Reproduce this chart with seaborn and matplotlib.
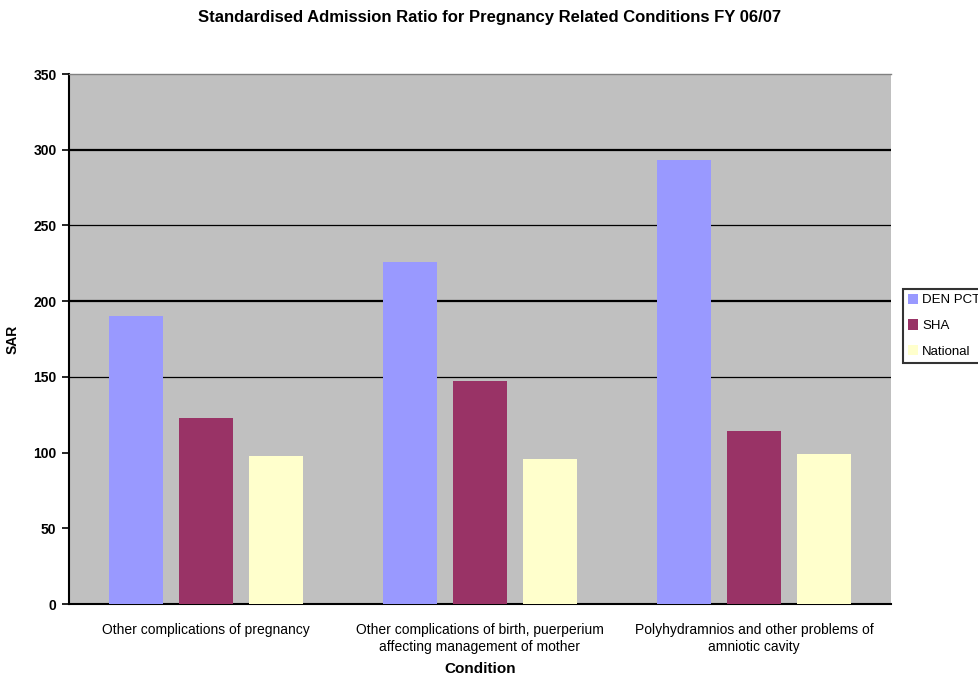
import matplotlib
matplotlib.use("Agg")
import matplotlib.pyplot as plt
import seaborn as sns
import pandas as pd

conditions = [
    "Other complications of pregnancy",
    "Other complications of birth, puerperium\naffecting management of mother",
    "Polyhydramnios and other problems of\namniotic cavity",
]
series = ["DEN PCT", "SHA", "National"]
den_pct = [190, 226, 293]
sha = [123, 147, 114]
national = [98, 96, 99]
colors = ["#9999FF", "#993366", "#FFFFCC"]

rows = []
for name, vals in zip(series, [den_pct, sha, national]):
    for cond, v in zip(conditions, vals):
        rows.append({"Condition": cond, "Series": name, "SAR": v})
df = pd.DataFrame(rows)

sns.set_theme(style="white")
plt.rcParams["font.family"] = ["Liberation Sans", "DejaVu Sans"]
plt.rcParams.update({"text.color": "black", "axes.labelcolor": "black",
                     "xtick.color": "black", "ytick.color": "black"})

fig = plt.figure(figsize=(9.79, 6.81), dpi=100)
ax = fig.add_axes([69 / 979, 1 - 604 / 681, (891 - 69) / 979, (604 - 74) / 681])
ax.set_facecolor("#C0C0C0")

sns.barplot(data=df, x="Condition", y="SAR", hue="Series", order=conditions,
            hue_order=series, palette=colors, width=0.766, gap=0.24,
            saturation=1, edgecolor="none", linewidth=0, ax=ax, zorder=3)

ax.set_ylim(0, 350)
ax.set_xlim(-0.5, 2.5)
ax.set_yticks(range(0, 351, 50))
ax.set_yticklabels([str(v) for v in range(0, 351, 50)], fontsize=10, fontweight="bold")

# horizontal gridlines
for y, lw in [(300, 1.6), (250, 0.9), (200, 1.6), (150, 0.9)]:
    ax.axhline(y, color="black", lw=lw, zorder=1)

ax.set_xticks(range(len(conditions)))
ax.set_xticklabels(conditions, fontsize=10)
ax.set_xticks([-0.5, 0.5, 1.5, 2.5], minor=True)
ax.tick_params(axis="x", which="major", length=0, pad=14)
ax.tick_params(axis="x", which="minor", length=6, width=1.2, color="black", direction="out")
ax.tick_params(axis="y", length=5, width=1.2, color="black", direction="out", left=True, pad=4)

for s in ["left", "bottom"]:
    ax.spines[s].set_color("black")
    ax.spines[s].set_linewidth(1.5)
ax.spines["top"].set_color("#808080")
ax.spines["top"].set_linewidth(1.0)
ax.spines["right"].set_visible(False)

ax.set_xlabel("Condition", fontsize=11, fontweight="bold", labelpad=6)
ax.set_ylabel("SAR", fontsize=10, fontweight="bold", labelpad=10)
fig.suptitle("Standardised Admission Ratio for Pregnancy Related Conditions FY 06/07",
             x=0.5, y=0.985, fontsize=12, fontweight="bold")

ax.get_legend().remove()
handles = [plt.Rectangle((0, 0), 1, 1, facecolor=c, edgecolor="none") for c in colors]
leg = fig.legend(handles, series, loc="upper left",
                 bbox_to_anchor=(903 / 979, 1 - 289 / 681), fontsize=9.5,
                 frameon=True, fancybox=False, handlelength=0.8, handleheight=0.8,
                 handletextpad=0.3, borderpad=0.35, labelspacing=1.0, borderaxespad=0)
leg.get_frame().set_edgecolor("black")
leg.get_frame().set_linewidth(1.5)
leg.get_frame().set_facecolor("white")

fig.savefig("out.png", dpi=100)
